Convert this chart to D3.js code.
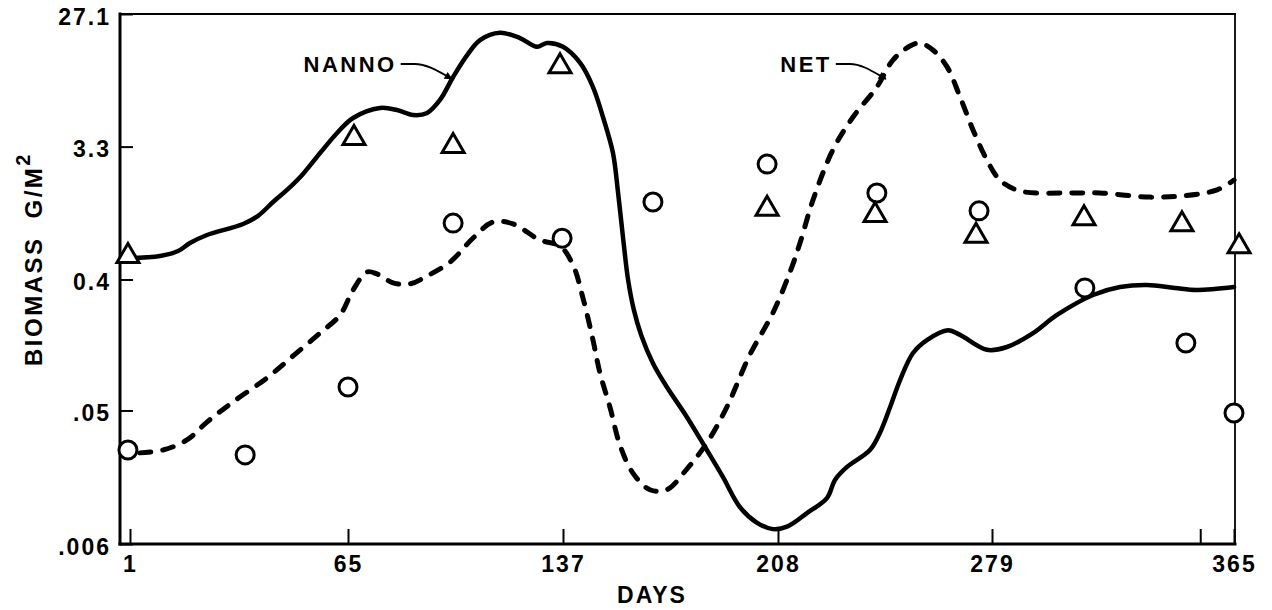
<!DOCTYPE html>
<html>
<head>
<meta charset="utf-8">
<script src="https://cdn.jsdelivr.net/npm/d3@7"></script>
<style>
  html, body { margin: 0; padding: 0; background: #fff; }
  svg { display: block; }
  text { font-family: "Liberation Sans", Arial, sans-serif; font-weight: bold; fill: #000; }
</style>
</head>
<body>
<svg id="chart" width="1272" height="610"></svg>
<script>
// ---------- data ----------
const xTickDays   = [1, 65, 137, 208, 279, 353, 365];
const xTickLabels = ["1", "65", "137", "208", "279", "", "365"];
const yTickValues = [0.006, 0.05, 0.4, 3.3, 27.1];
const yTickLabels = [".006", ".05", "0.4", "3.3", "27.1"];

const nannoDays = [1, 9.8, 15.1, 18.6, 23.6, 34.2, 38.6, 43.0, 47.1, 51.8, 56.8, 61.8, 66.7, 75.7, 81.4,
  86.8, 91.5, 95.8, 100.2, 104.9, 109.2, 115.9, 122.6, 128.3, 131.6, 137, 142.6, 146.9, 150.2, 153.5,
  155.2, 156.8, 158.5, 160.4, 162.8, 166.7, 171.3, 177.9, 184.5, 189.8, 195.4, 201.1, 206.3, 211.0, 217.6,
  224.3, 226.9, 230.9, 238.5, 241.8, 245.2, 248.5, 252.8, 257.4, 264.4, 268.4, 277.3, 284.3, 293.6, 302.1,
  314.9, 324.5, 334.1, 344.0, 351.8, 365];
const nannoBiomass = [0.563, 0.581, 0.629, 0.714, 0.811, 0.966, 1.10, 1.37, 1.66, 2.14, 2.98, 4.10, 5.20, 6.09, 5.90,
  5.45, 5.63, 6.92, 9.97, 14.1, 17.9, 20.1, 18.5, 16.1, 17.1, 16.1, 12.5, 8.5, 5.28, 2.98,
  1.58, 0.786, 0.397, 0.247, 0.166, 0.106, 0.0726, 0.0451, 0.0267, 0.0174, 0.0108, 0.0084, 0.0076, 0.0079, 0.0098,
  0.0125, 0.0166, 0.0204, 0.0267, 0.035, 0.0528, 0.0811, 0.1245, 0.153, 0.179, 0.166, 0.131, 0.137, 0.171, 0.228,
  0.313, 0.355, 0.367, 0.350, 0.339, 0.355];

const netDays = [3.9, 10.7, 17.7, 23.6, 31.2, 41.2, 48.9, 56.8, 62.7, 66.7, 71.4, 74.7, 80.1, 85.8, 91.5,
  99.2, 106.9, 113.6, 120.3, 129.3, 136.0, 140.3, 143.6, 146.9, 149.2, 152.5, 155.8, 160.1, 165.7, 171.3,
  177.9, 184.5, 191.1, 198.7, 206.3, 212.0, 215.3, 219.6, 226.2, 232.9, 240.8, 246.2, 251.8, 255.1, 259.4,
  264.1, 268.4, 272.7, 277.3, 281.8, 289.0, 305.7, 317.4, 335.1, 346.9, 359.0, 365];
const netBiomass = [0.0255, 0.0267, 0.0313, 0.0416, 0.0572, 0.0838, 0.119, 0.171, 0.228, 0.339, 0.451, 0.437, 0.379, 0.373, 0.423,
  0.528, 0.773, 0.997, 0.966, 0.749, 0.681, 0.504, 0.298, 0.153, 0.0907, 0.0528, 0.0289, 0.0185, 0.0142, 0.0142,
  0.0197, 0.0298, 0.0528, 0.121, 0.235, 0.451, 0.714, 1.41, 3.13, 5.28, 8.5, 13.1, 16.3, 17.1, 15.3,
  11.7, 7.26, 4.30, 2.67, 1.94, 1.63, 1.58, 1.58, 1.48, 1.51, 1.66, 1.94];

const circleDays    = [0.4, 34.8, 65, 100.2, 136.7, 166.7, 204.4, 240.8, 274.7, 312.0, 347.9, 365];
const circleBiomass = [0.0267, 0.0247, 0.0726, 0.98, 0.77, 1.37, 2.50, 1.58, 1.19, 0.35, 0.146, 0.048];

const triangleDays    = [0.4, 67.0, 100.2, 136.0, 204.4, 240.2, 273.7, 311.7, 346.5, 366.8];
const triangleBiomass = [0.61, 3.97, 3.50, 12.4, 1.29, 1.17, 0.84, 1.11, 1.01, 0.71];

const labelNames = ["NANNO", "NET"];
const labelDays = [65.7, 217.3];
const labelBiomass = [12.25, 12.25];
const arrowTipDays = [99.8, 243.8];
const arrowTipBiomass = [9.66, 9.66];

// ---------- layout ----------
const svg = d3.select("#chart");
const plot = { left: 120, right: 1235, top: 14, bottom: 544 };

// hand-drawn axis: ticks are piecewise spaced
const xAnchorDays = [1, 65, 137, 208, 279, 365];
const xAnchorPx = [130, 348, 563, 778, 992, 1234];
const x = d3.scaleLinear().domain(xAnchorDays).range(xAnchorPx);
const y = d3.scaleLog().domain([0.006, 27.1]).range([plot.bottom, plot.top]);

// frame
const frame = svg.append("g").attr("stroke", "#000").attr("fill", "none").attr("stroke-linecap", "square");
frame.append("line").attr("x1", plot.left).attr("x2", plot.right).attr("y1", plot.top).attr("y2", plot.top).attr("stroke-width", 2);
frame.append("line").attr("x1", plot.right).attr("x2", plot.right).attr("y1", plot.top).attr("y2", plot.bottom).attr("stroke-width", 1.8);
frame.append("line").attr("x1", plot.left).attr("x2", plot.right).attr("y1", plot.bottom).attr("y2", plot.bottom).attr("stroke-width", 3);
frame.append("line").attr("x1", plot.left).attr("x2", plot.left).attr("y1", plot.top).attr("y2", plot.bottom).attr("stroke-width", 3);

// axes
const xAxis = d3.axisBottom(x).tickValues(xTickDays)
  .tickFormat((d, i) => xTickLabels[i]).tickSize(-15).tickPadding(12);
const gx = svg.append("g").attr("transform", `translate(0,${plot.bottom})`).call(xAxis);
gx.select(".domain").remove();
gx.selectAll(".tick line").attr("stroke", "#000").attr("stroke-width", 2);
gx.selectAll(".tick text").attr("font-size", 23).attr("letter-spacing", 2)
  .style("font-family", "'Liberation Sans', Arial, sans-serif").style("font-weight", "bold");

const yAxis = d3.axisLeft(y).tickValues(yTickValues)
  .tickFormat((d, i) => yTickLabels[i]).tickSize(-13).tickPadding(9);
const gy = svg.append("g").attr("transform", `translate(${plot.left},0)`).call(yAxis);
gy.select(".domain").remove();
gy.selectAll(".tick line").attr("stroke", "#000").attr("stroke-width", 2);
gy.selectAll(".tick text").attr("font-size", 23).attr("letter-spacing", 2).attr("dy", "0.45em")
  .style("font-family", "'Liberation Sans', Arial, sans-serif").style("font-weight", "bold");

// axis titles
svg.append("text").attr("x", 652).attr("y", 603).attr("text-anchor", "middle")
  .attr("font-size", 23).attr("letter-spacing", 2).text("DAYS");

const yt = svg.append("text").attr("transform", "translate(42,259) rotate(-90)")
  .attr("text-anchor", "middle").attr("font-size", 24).attr("letter-spacing", 2.5);
yt.append("tspan").text("BIOMASS");
yt.append("tspan").attr("dx", 18).text("G/M");
yt.append("tspan").attr("dy", -12).attr("font-size", 20).text("2");

// curves
const line = d3.line().x(d => x(d[0])).y(d => y(d[1])).curve(d3.curveCatmullRom.alpha(0.5));
const nanno = nannoDays.map((d, i) => [d, nannoBiomass[i]]);
const net = netDays.map((d, i) => [d, netBiomass[i]]);

svg.append("path").datum(nanno).attr("d", line)
  .attr("fill", "none").attr("stroke", "#000").attr("stroke-width", 4.5).attr("stroke-linejoin", "round").attr("stroke-linecap", "round");
svg.append("path").datum(net).attr("d", line)
  .attr("fill", "none").attr("stroke", "#000").attr("stroke-width", 5)
  .attr("stroke-dasharray", "11,12").attr("stroke-linecap", "round");

// markers
svg.append("g").selectAll("circle").data(circleDays.map((d, i) => [d, circleBiomass[i]]))
  .join("circle").attr("cx", d => x(d[0])).attr("cy", d => y(d[1])).attr("r", 9)
  .attr("fill", "#fff").attr("stroke", "#000").attr("stroke-width", 3);

const tw = 22, th = 19;
svg.append("g").selectAll("path").data(triangleDays.map((d, i) => [d, triangleBiomass[i]]))
  .join("path")
  .attr("d", `M0,${-th / 2}L${tw / 2},${th / 2}L${-tw / 2},${th / 2}Z`)
  .attr("transform", d => `translate(${x(d[0])},${y(d[1])})`)
  .attr("fill", "#fff").attr("stroke", "#000").attr("stroke-width", 3).attr("stroke-linejoin", "miter");

// labels with arrows
svg.append("defs").append("marker").attr("id", "ah")
  .attr("viewBox", "0 0 10 10").attr("refX", 9).attr("refY", 5)
  .attr("markerWidth", 12).attr("markerHeight", 8).attr("markerUnits", "userSpaceOnUse")
  .attr("orient", "auto")
  .append("path").attr("d", "M0,0L10,5L0,10Z").attr("fill", "#000");

labelNames.forEach((name, i) => {
  const lx = x(labelDays[i]), ly = y(labelBiomass[i]);
  const t = svg.append("text").attr("x", lx).attr("y", ly).attr("dy", "0.36em")
    .attr("text-anchor", "middle").attr("font-size", 22).attr("letter-spacing", 2.5).text(name);
  const bb = t.node().getBBox();
  const sx = bb.x + bb.width + 4, sy = ly;
  const tx = x(arrowTipDays[i]), ty = y(arrowTipBiomass[i]);
  svg.append("path")
    .attr("d", `M${sx},${sy}L${sx + 14},${sy}C${sx + 26},${sy} ${tx - 14},${ty - 8} ${tx},${ty}`)
    .attr("fill", "none").attr("stroke", "#000").attr("stroke-width", 1.8).attr("marker-end", "url(#ah)");
});
</script>
</body>
</html>
